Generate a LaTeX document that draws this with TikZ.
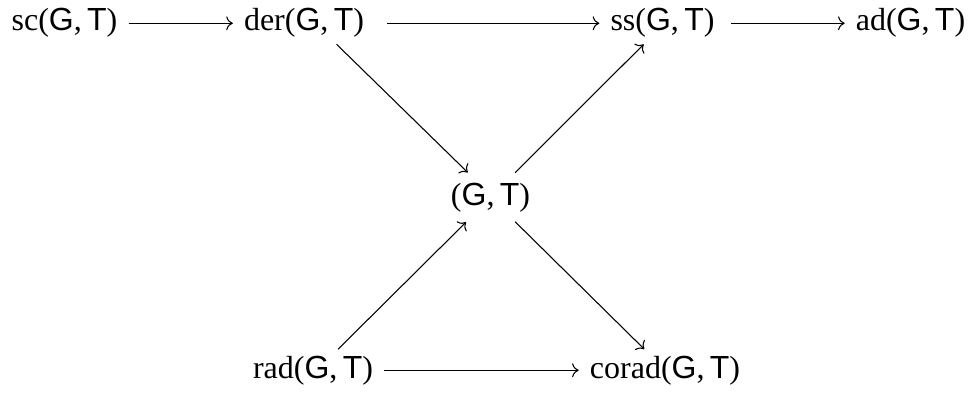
\documentclass[tikz,border=0pt]{standalone}
\usepackage{fontspec}
\setmainfont{Liberation Serif}
\setsansfont{Liberation Sans}
\usepackage{tikz}
\usetikzlibrary{arrows.meta}

\begin{document}
\begin{tikzpicture}[
  x=0.375pt, y=-0.375pt,
  obj/.style={anchor=base, inner xsep=4pt, inner ysep=0pt, text height=0.8em, text depth=0.22em, font=\fontsize{12}{14}\selectfont},
  arr/.style={->, line width=0.4pt},
  intomid/.style={arr, shorten <=3.7pt, shorten >=5.7pt},
  outofmid/.style={arr, shorten <=5.5pt, shorten >=3.7pt}
]
  \useasboundingbox (0,0) rectangle (976,392);

  \node[obj] (sc) at (64.5,31) {sc(\textsf{G},\,\textsf{T})};
  \node[obj] (der) at (304,31) {der(\textsf{G},\,\textsf{T})};
  \node[obj] (ss) at (662.5,31) {ss(\textsf{G},\,\textsf{T})};
  \node[obj] (ad) at (910.5,31) {ad(\textsf{G},\,\textsf{T})};
  \node[obj] (gt) at (490.5,205) {(\textsf{G},\,\textsf{T})};
  \node[obj] (rad) at (313,378) {rad(\textsf{G},\,\textsf{T})};
  \node[obj] (corad) at (665,378) {corad(\textsf{G},\,\textsf{T})};

  \draw[arr] (sc) -- (der);
  \draw[arr, shorten <=4.5pt] (der) -- (ss);
  \draw[arr, shorten <=2pt] (ss) -- (ad);
  \draw[arr] (rad) -- (corad);

  \draw[intomid] (der.-29) -- (gt.130);
  \draw[outofmid] (gt.45) -- (ss.-130);
  \draw[intomid] (rad.38) -- (gt.-134);
  \draw[outofmid] (gt.-45) -- (corad.134);
\end{tikzpicture}
\end{document}
